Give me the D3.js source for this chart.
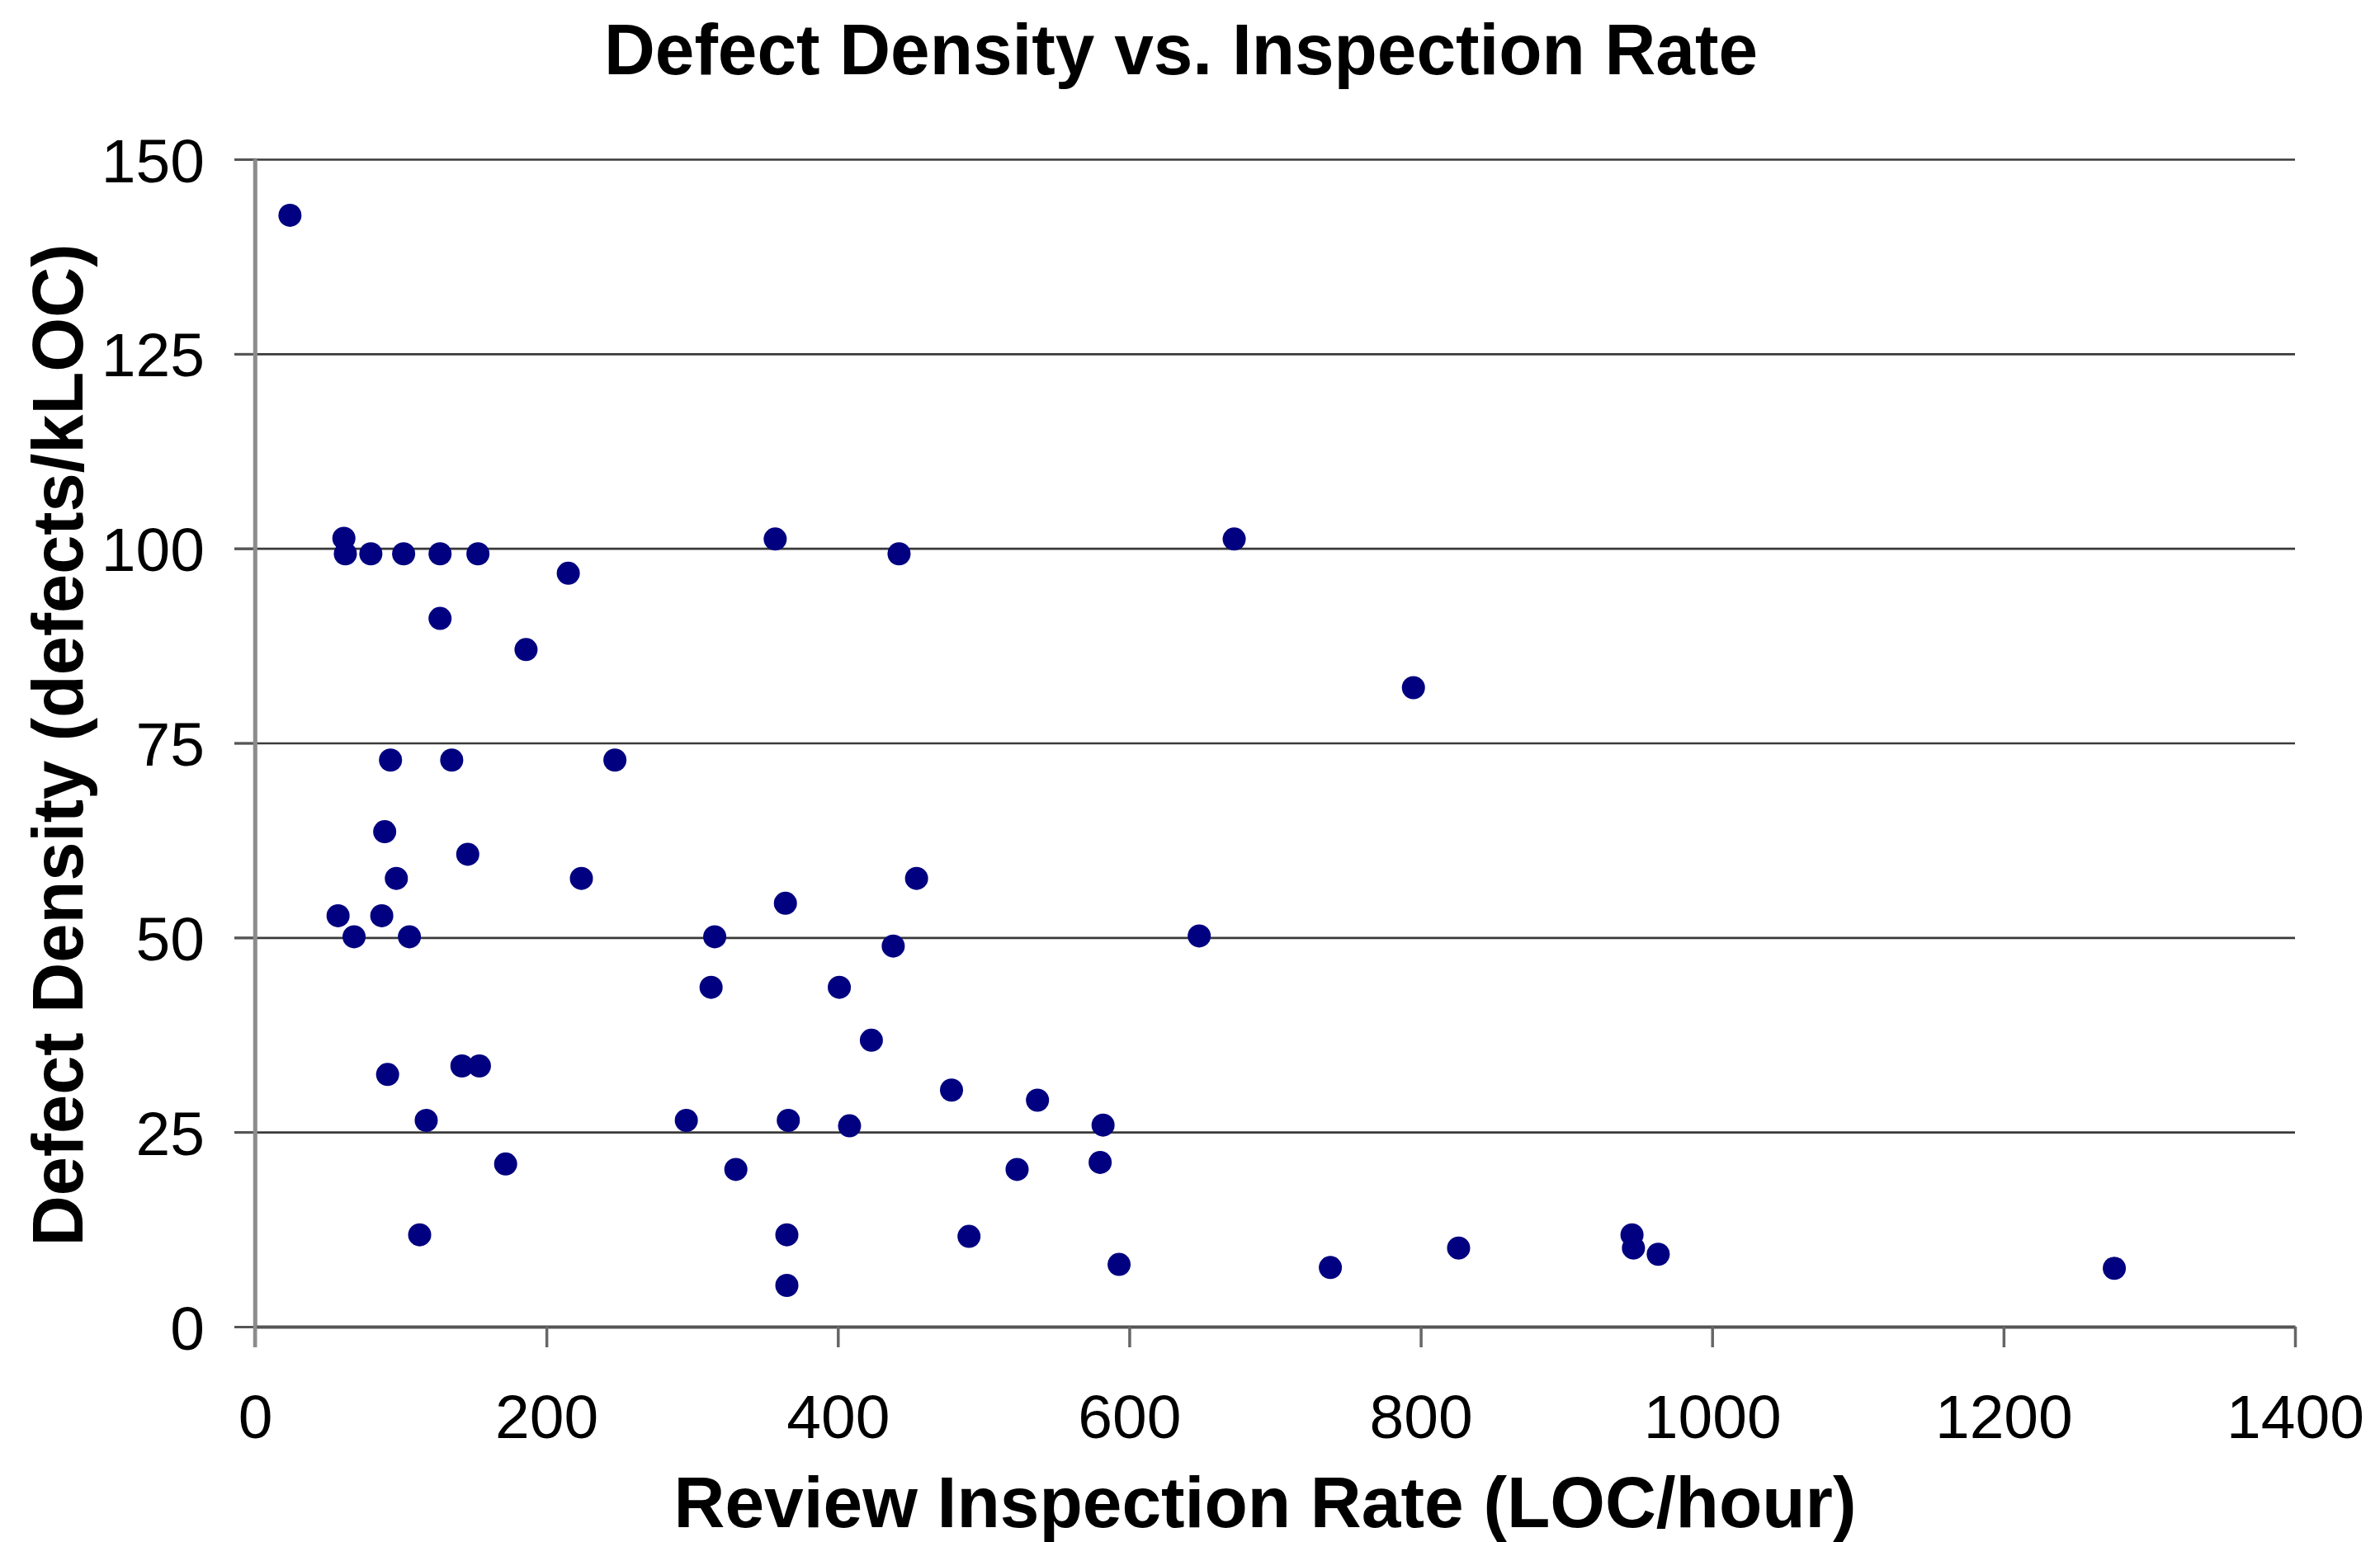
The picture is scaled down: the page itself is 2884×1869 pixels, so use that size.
<!DOCTYPE html>
<html>
<head>
<meta charset="utf-8">
<title>Defect Density vs. Inspection Rate</title>
<script src="https://cdn.jsdelivr.net/npm/d3@7/dist/d3.min.js"></script>
<style>
  html, body { margin: 0; padding: 0; background: #ffffff; }
  svg { display: block; font-family: "Liberation Sans", Arial, Helvetica, sans-serif; }
</style>
</head>
<body>
<svg id="chart" width="2884" height="1869"></svg>
<script>
// Review records: inspection rate (LOC/hour) and defect density (defects/kLOC)
const inspectionRate = [
  24, 61, 62, 79.5, 102, 127, 153, 215, 127, 186, 357, 442,
  93, 135, 247, 89, 146, 97, 224, 454, 364, 57, 87, 68, 106, 315.5, 438,
  313, 401, 423, 91, 142, 154, 478, 117.5, 296, 366, 408, 172, 330, 113, 365, 365,
  672, 795, 648, 537, 582, 523, 580, 490, 593, 738, 826, 945, 946, 963, 1276
];
const defectDensity = [
  142.8, 101.3, 99.3, 99.3, 99.3, 99.3, 99.3, 96.8, 91.0, 87.0, 101.2, 99.3,
  72.8, 72.8, 72.8, 63.6, 60.7, 57.6, 57.6, 57.6, 54.4, 52.8, 52.8, 50.1, 50.1, 50.1, 48.9,
  43.6, 43.6, 36.8, 32.4, 33.5, 33.5, 30.4, 26.5, 26.5, 26.5, 25.8, 20.9, 20.2, 11.8, 11.8, 5.3,
  101.2, 82.1, 50.2, 29.1, 25.9, 20.2, 21.1, 11.6, 8.0, 7.6, 10.1, 11.8, 10.1, 9.3, 7.5
];
const xTicks = [0, 200, 400, 600, 800, 1000, 1200, 1400];
const yTicks = [0, 25, 50, 75, 100, 125, 150];

const titleText = "Defect Density vs. Inspection Rate";
const xTitleText = "Review Inspection Rate (LOC/hour)";
const yTitleText = "Defect Density (defects/kLOC)";

const points = inspectionRate.map((r, i) => ({ rate: r, density: defectDensity[i] }));

const svg = d3.select("#chart");
const plot = { left: 309, right: 2781, top: 193, bottom: 1608 };
const tickLen = 25;
const plain = d3.format("d");

const x = d3.scaleLinear().domain([0, 1400]).range([plot.left, plot.right]);
const y = d3.scaleLinear().domain([0, 150]).range([plot.bottom, plot.top]);

// horizontal gridlines (they also form the left tick stubs)
const grid = svg.append("g")
  .attr("transform", `translate(${plot.right},0)`)
  .call(d3.axisLeft(y).tickValues(yTicks.filter(v => v > 0))
    .tickSize(plot.right - plot.left + tickLen).tickFormat(""));
grid.select(".domain").remove();
grid.selectAll(".tick line").attr("stroke", "#3a3a3a").attr("stroke-width", 2.6);

// y axis
const yAxis = svg.append("g")
  .attr("transform", `translate(${plot.left},0)`)
  .call(d3.axisLeft(y).tickValues(yTicks).tickFormat(plain)
    .tickSizeInner(tickLen).tickSizeOuter(0).tickPadding(36));
yAxis.select(".domain").attr("stroke", "#8c8c8c").attr("stroke-width", 4.5);
yAxis.selectAll(".tick line").attr("stroke", "#555").attr("stroke-width", 3);
yAxis.selectAll(".tick text")
  .attr("font-size", 75).attr("fill", "#000")
  .attr("font-family", "'Liberation Sans', Arial, sans-serif")
  .attr("dy", "0.36em");

// x axis
const xAxis = svg.append("g")
  .attr("transform", `translate(0,${plot.bottom})`)
  .call(d3.axisBottom(x).tickValues(xTicks).tickFormat(plain)
    .tickSizeInner(tickLen).tickSizeOuter(0).tickPadding(57));
xAxis.select(".domain").attr("stroke", "#555").attr("stroke-width", 4);
xAxis.selectAll(".tick line").attr("stroke", "#666").attr("stroke-width", 3.5);
xAxis.selectAll(".tick text")
  .attr("font-size", 75).attr("fill", "#000")
  .attr("font-family", "'Liberation Sans', Arial, sans-serif")
  .attr("dy", "0.71em");

// y axis line drawn on top so it keeps its grey tone over the gridline stubs
svg.append("line")
  .attr("x1", x(0)).attr("x2", x(0))
  .attr("y1", y(150)).attr("y2", y(0) + tickLen)
  .attr("stroke", "#8c8c8c").attr("stroke-width", 4.5);

// data points
svg.append("g").selectAll("circle")
  .data(points)
  .join("circle")
  .attr("cx", d => x(d.rate))
  .attr("cy", d => y(d.density))
  .attr("r", 14)
  .attr("fill", "#000080");

// titles
svg.append("text")
  .attr("x", 1431).attr("y", 90)
  .attr("text-anchor", "middle")
  .attr("font-size", 88).attr("font-weight", "bold")
  .attr("textLength", 1398).attr("lengthAdjust", "spacingAndGlyphs")
  .text(titleText);

svg.append("text")
  .attr("x", 1533).attr("y", 1851)
  .attr("text-anchor", "middle")
  .attr("font-size", 88).attr("font-weight", "bold")
  .attr("textLength", 1433).attr("lengthAdjust", "spacingAndGlyphs")
  .text(xTitleText);

svg.append("text")
  .attr("transform", "translate(100,903) rotate(-90)")
  .attr("text-anchor", "middle")
  .attr("font-size", 88).attr("font-weight", "bold")
  .attr("textLength", 1215).attr("lengthAdjust", "spacingAndGlyphs")
  .text(yTitleText);
</script>
</body>
</html>
